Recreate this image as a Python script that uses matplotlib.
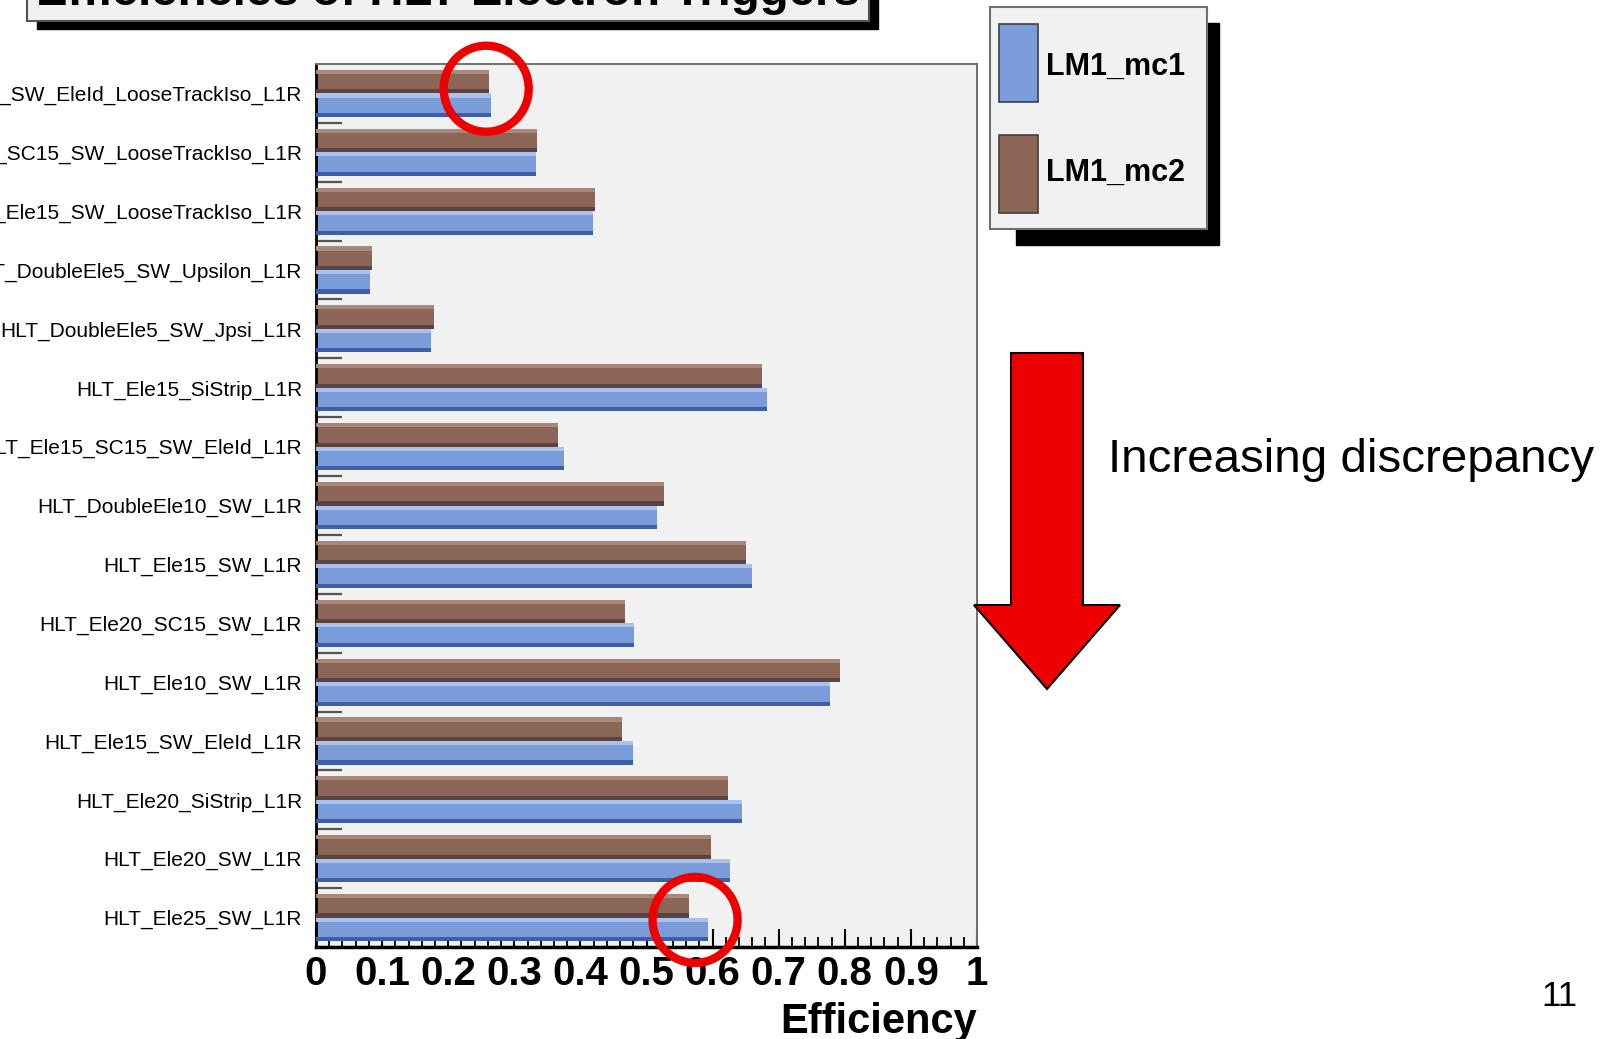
import numpy as np
import matplotlib.pyplot as plt
from matplotlib.patches import Rectangle, Polygon, Ellipse
from matplotlib.transforms import ScaledTranslation

plt.rcParams['font.family'] = ['Liberation Sans', 'DejaVu Sans']

# trigger paths, top to bottom
triggers = [
    "HLT_Ele15_SW_EleId_LooseTrackIso_L1R",
    "HLT_Ele15_SC15_SW_LooseTrackIso_L1R",
    "HLT_Ele15_SW_LooseTrackIso_L1R",
    "HLT_DoubleEle5_SW_Upsilon_L1R",
    "HLT_DoubleEle5_SW_Jpsi_L1R",
    "HLT_Ele15_SiStrip_L1R",
    "HLT_Ele15_SC15_SW_EleId_L1R",
    "HLT_DoubleEle10_SW_L1R",
    "HLT_Ele15_SW_L1R",
    "HLT_Ele20_SC15_SW_L1R",
    "HLT_Ele10_SW_L1R",
    "HLT_Ele15_SW_EleId_L1R",
    "HLT_Ele20_SiStrip_L1R",
    "HLT_Ele20_SW_L1R",
    "HLT_Ele25_SW_L1R",
]
eff_mc1 = [0.264, 0.333, 0.419, 0.081, 0.174, 0.682, 0.375, 0.516, 0.659,
           0.481, 0.777, 0.480, 0.645, 0.626, 0.593]
eff_mc2 = [0.261, 0.334, 0.422, 0.084, 0.179, 0.674, 0.366, 0.526, 0.650,
           0.467, 0.793, 0.463, 0.623, 0.598, 0.564]
series_names = ["LM1_mc1", "LM1_mc2"]
highlighted = [0, 14]   # circled triggers

W, H, DPI = 1614, 1039, 100
fig = plt.figure(figsize=(W / DPI, H / DPI), dpi=DPI)
fig.patch.set_facecolor("white")

def fx(x):
    return x / W

def fy(y):
    return 1 - y / H

ax = fig.add_axes([fx(316), fy(947), fx(977) - fx(316), fy(64) - fy(947)])
ax.set_facecolor("#f1f1f1")

n = len(triggers)
pos = np.arange(n)
blue = ("#7a9cd8", "#aac1ec", "#3e5ea8")
brown = ("#8b6556", "#a8887a", "#5c4240")

# ROOT style shaded bars: mc2 in upper half of each bin, mc1 in lower half
for vals, off, (c, cl, cd) in [(eff_mc2, 0.1, brown), (eff_mc1, 0.5, blue)]:
    ax.barh(pos + off + 0.2, vals, height=0.4, color=c, lw=0, zorder=2)
    ax.barh(pos + off + 0.035, vals, height=0.07, color=cl, lw=0, zorder=3)
    ax.barh(pos + off + 0.365, vals, height=0.07, color=cd, lw=0, zorder=3)

ax.set_xlim(0, 1)
ax.set_ylim(n, 0)

ax.set_xticks(np.arange(0, 1.01, 0.1))
ax.set_xticklabels([f"{v:g}" for v in np.arange(0, 1.01, 0.1)],
                   fontsize=29, fontweight="bold")
ax.set_xticks(np.arange(0, 1.001, 0.02), minor=True)
ax.tick_params(axis="x", which="major", direction="in", length=13, width=1.5,
               pad=6, color="black")
ax.tick_params(axis="x", which="minor", direction="in", length=7, width=1.3,
               color="black")

ax.set_yticks(pos + 0.5)
ax.set_yticklabels(triggers, fontsize=15)
ax.set_yticks(np.arange(1, n), minor=True)
ax.tick_params(axis="y", which="major", length=0, pad=10)
ax.tick_params(axis="y", which="minor", direction="in", length=19, width=1.6,
               color="#555555")

ax.set_xlabel("Efficiency", loc="right", fontsize=30, fontweight="bold",
              labelpad=6)

ax.spines["left"].set_linewidth(2)
ax.spines["bottom"].set_linewidth(2.5)
for s in ["top", "right"]:
    ax.spines[s].set_linewidth(1.4)
    ax.spines[s].set_color("#707070")

# red circles around the highlighted bar ends
for i, dy in zip(highlighted, [0.42, 0.54]):
    xc = (eff_mc1[i] + eff_mc2[i]) / 2 - 0.005
    tr = fig.dpi_scale_trans + ScaledTranslation(xc, i + dy, ax.transData)
    ax.add_patch(Ellipse((0, 0), 0.85, 0.86, transform=tr, fill=False,
                         ec="#ee0000", lw=6, clip_on=False, zorder=10))

# title pave (cut at top of slide)
fig.add_artist(Polygon([(fx(37), fy(-60)), (fx(878), fy(-60)), (fx(878), fy(29)),
                        (fx(37), fy(29))], closed=True, color="black",
                       transform=fig.transFigure))
fig.add_artist(Rectangle((fx(27), fy(21)), fx(869) - fx(27), fy(-60) - fy(21),
                         fc="#f1f1f1", ec="#555555", lw=1.5,
                         transform=fig.transFigure))
fig.text(fx(448), fy(5), "Efficiencies of HLT Electron Triggers",
         fontsize=34, fontweight="bold", ha="center", va="baseline")

# legend pave with shadow
fig.add_artist(Rectangle((fx(1016), fy(245)), fx(1219) - fx(1016), fy(23) - fy(245),
                         color="black", transform=fig.transFigure))
fig.add_artist(Rectangle((fx(990), fy(229)), fx(1207) - fx(990), fy(7) - fy(229),
                         fc="#f1f1f1", ec="#707070", lw=1.5,
                         transform=fig.transFigure))
for name, col, top, bot, ty in [(series_names[0], blue[0], 24, 102, 67),
                                (series_names[1], brown[0], 135, 213, 173)]:
    fig.add_artist(Rectangle((fx(999), fy(bot)), fx(1038) - fx(999), fy(top) - fy(bot),
                             fc=col, ec="#404040", lw=1.2,
                             transform=fig.transFigure))
    fig.text(fx(1046), fy(ty), name, fontsize=22,
             fontweight="bold", ha="left", va="center")

# arrow
arrow_pts = [(1011, 353), (1083, 353), (1083, 605), (1120, 605), (1047, 689),
             (974, 605), (1011, 605)]
fig.add_artist(Polygon([(fx(x), fy(y)) for x, y in arrow_pts], closed=True,
                       fc="#ee0000", ec="black", lw=1.5,
                       transform=fig.transFigure, zorder=5))
fig.text(fx(1108), fy(472), "Increasing discrepancy", fontsize=34.2,
         ha="left", va="baseline")

fig.text(fx(1559), fy(1006), "11", fontsize=25, ha="center", va="baseline")

fig.savefig("out.png", dpi=DPI)
